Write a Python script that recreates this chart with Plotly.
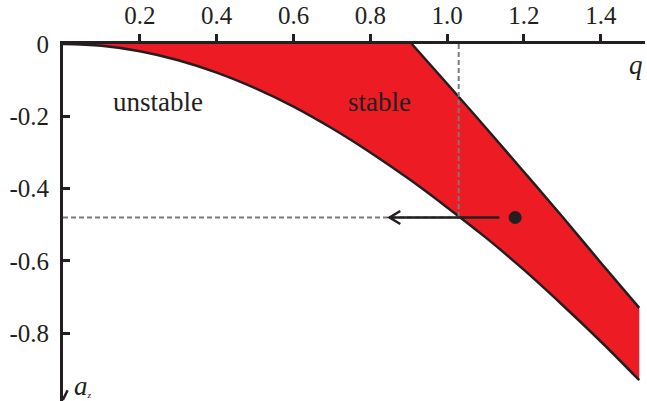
import plotly.graph_objects as go

# ---- data ----
# lower stability boundary (a0 curve)
lower_q = [0.0, 0.1, 0.2, 0.3, 0.4, 0.5, 0.6, 0.7, 0.8, 0.9, 1.0, 1.1, 1.2, 1.3, 1.4, 1.5]
lower_a = [0.0, -0.005, -0.020, -0.045, -0.079, -0.122, -0.173, -0.233, -0.300, -0.373, -0.452, -0.535, -0.625, -0.722, -0.823, -0.930]
# upper stability boundary (b1 curve)
upper_q = [0.908, 1.0, 1.1, 1.2, 1.3, 1.4, 1.5]
upper_a = [0.0, -0.110, -0.231, -0.354, -0.478, -0.605, -0.730]

# working point and its projection
point_q = 1.177
point_a = -0.48
proj_q = 1.03          # where the horizontal meets the lower boundary
arrow_tail_q = 1.136
arrow_tip_q = 0.850

x_tickvals = [0.2, 0.4, 0.6, 0.8, 1.0, 1.2, 1.4]
x_ticktext = ["0.2", "0.4", "0.6", "0.8", "1.0", "1.2", "1.4"]
y_tickvals = [0.0, -0.2, -0.4, -0.6, -0.8]
y_ticktext = ["0", "-0.2", "-0.4", "-0.6", "-0.8"]

RED = "#ED1C24"
INK = "#231F20"
GREY = "#7A7A7A"
FONT = "Liberation Serif, Times New Roman, serif"

fig = go.Figure()

# stable region polygon
poly_q = [0.0] + upper_q + lower_q[::-1]
poly_a = [0.0] + upper_a + lower_a[::-1]
fig.add_trace(go.Scatter(x=poly_q, y=poly_a, fill="toself", fillcolor=RED,
                         line=dict(width=0), mode="lines", hoverinfo="skip"))

# boundaries
fig.add_trace(go.Scatter(x=lower_q, y=lower_a, mode="lines",
                         line=dict(color=INK, width=2.5, shape="spline")))
fig.add_trace(go.Scatter(x=upper_q, y=upper_a, mode="lines",
                         line=dict(color=INK, width=2.5, shape="spline")))

# dashed guide lines
fig.add_trace(go.Scatter(x=[0.0, proj_q], y=[point_a, point_a], mode="lines",
                         line=dict(color=GREY, width=2, dash="5px,3px")))
fig.add_trace(go.Scatter(x=[proj_q, proj_q], y=[0.0, point_a], mode="lines",
                         line=dict(color=GREY, width=2, dash="5px,3px")))

# arrow shaft
fig.add_trace(go.Scatter(x=[arrow_tail_q, arrow_tip_q], y=[point_a, point_a], mode="lines",
                         line=dict(color=INK, width=2.5)))
# arrow head (open chevron)
hq = 0.028
ha = 0.018
fig.add_trace(go.Scatter(x=[arrow_tip_q + hq, arrow_tip_q, arrow_tip_q + hq],
                         y=[point_a + ha, point_a, point_a - ha], mode="lines",
                         line=dict(color=INK, width=2.5)))
# working point
fig.add_trace(go.Scatter(x=[point_q], y=[point_a], mode="markers",
                         marker=dict(color=INK, size=13)))

# y-axis arrow head at bottom
fig.add_trace(go.Scatter(x=[-0.012, 0.0, 0.012], y=[-0.958, -0.984, -0.958], mode="lines",
                         line=dict(color=INK, width=2.5), cliponaxis=False))

annos = [
    dict(x=0.247, y=-0.16, text="unstable", font=dict(size=27)),
    dict(x=0.825, y=-0.16, text="stable", font=dict(size=27)),
    dict(x=1.491, y=-0.058, text="<i>q</i>", font=dict(size=27)),
    dict(x=0.052, y=-0.945, text="<i>a</i><span style='font-size:13px'><sub><i>z</i></sub></span>", font=dict(size=27)),
]
for a in annos:
    a.update(xref="x", yref="y", showarrow=False, xanchor="center", yanchor="middle")
    a["font"].update(family=FONT, color=INK)
fig.update_layout(annotations=annos)

tickfont = dict(family=FONT, color=INK, size=25)

fig.update_layout(
    width=647, height=401,
    margin=dict(l=63, r=2, t=44, b=0),
    paper_bgcolor="white", plot_bgcolor="white",
    showlegend=False,
    font=dict(family=FONT, color=INK, size=25),
    xaxis=dict(range=[0, 1.515], side="top", showline=True, linecolor=INK, linewidth=3,
               ticks="outside", ticklen=7, tickwidth=2.5, tickcolor=INK, tickfont=tickfont,
               tickvals=x_tickvals, ticktext=x_ticktext, showgrid=False, zeroline=False,
               layer="above traces", fixedrange=True),
    yaxis=dict(range=[-0.9876, 0], showline=True, linecolor=INK, linewidth=3,
               ticks="inside", ticklen=7, tickwidth=2.5, tickcolor=INK, tickfont=tickfont,
               tickvals=y_tickvals, ticktext=y_ticktext, showgrid=False, zeroline=False,
               ticklabelstandoff=6, layer="above traces", fixedrange=True),
)

fig.write_html("out.html")
